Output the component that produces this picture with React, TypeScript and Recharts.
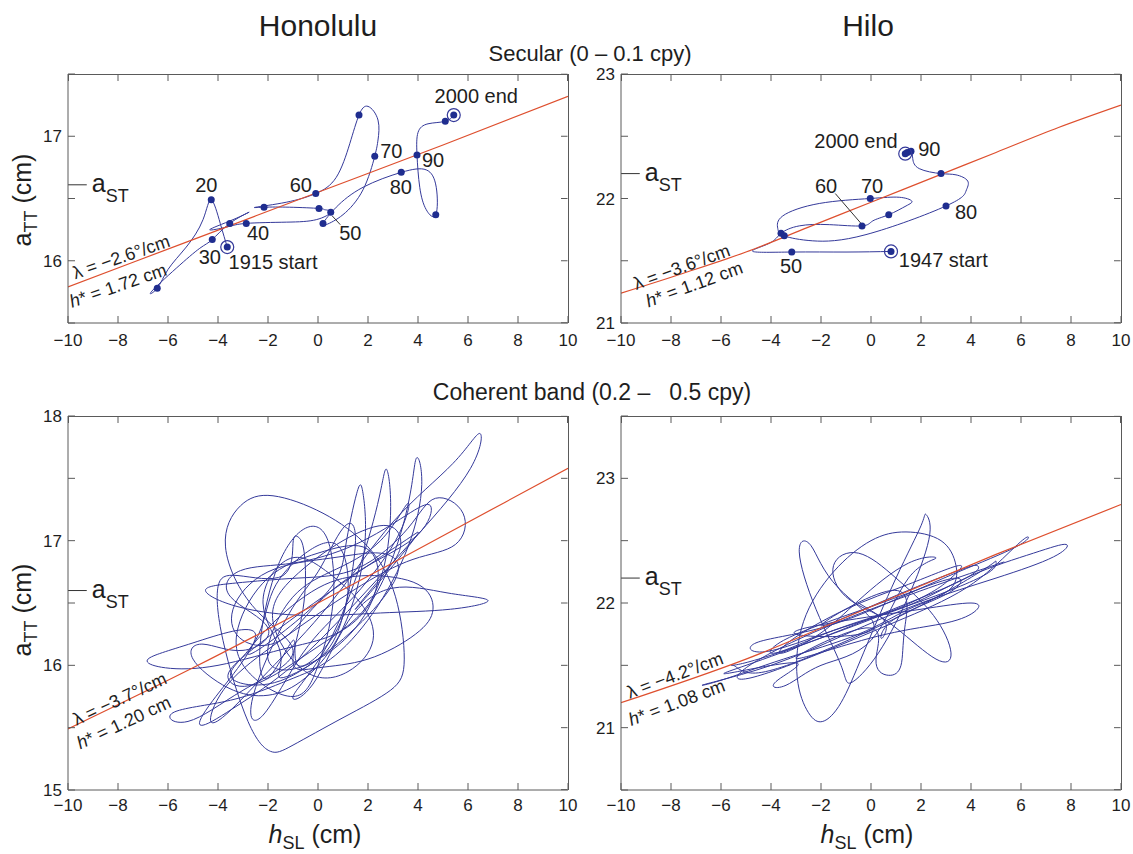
import React from "react";
import { ComposedChart, Line, Scatter, XAxis, YAxis, ReferenceLine } from "recharts";

const FONT = "'Liberation Sans', Arial, Helvetica, sans-serif";
const BLUE = "#34399a";
const DOT = "#1f2d8f";
const RED = "#de4f2e";
const AXIS = "#5a5a5a";
const INK = "#1e1e1e";

type Pt = { x: number; y: number };
type Lbl = Pt & { text: string };
type Note = Pt & { lead: string; rest: string; italic?: boolean };

const pts = (a: number[][]): Pt[] => a.map(([x, y]) => ({ x, y }));

const X_DOMAIN: [number, number] = [-10, 10];
const X_TICKS = [-10, -8, -6, -4, -2, 0, 2, 4, 6, 8, 10];
const HON_SEC_TICKS = [15.5, 16, 16.5, 17, 17.5];
const HILO_SEC_TICKS = [21, 21.5, 22, 22.5, 23];
const HON_COH_TICKS = [15, 15.5, 16, 16.5, 17, 17.5, 18];
const HILO_COH_TICKS = [20.5, 21, 21.5, 22, 22.5, 23, 23.5];

// ---- Honolulu, secular ----
const honSecFit = pts([[-10, 15.79], [-5, 16.17], [0, 16.55], [5, 16.93], [10, 17.32]]);
const honSecPath = pts([
  [-3.63, 16.11], [-3.91, 16.3], [-4.27, 16.49], [-4.6, 16.33], [-5.27, 16.11], [-6.0, 15.93],
  [-6.43, 15.78], [-6.67, 15.75], [-5.67, 15.94], [-4.73, 16.1], [-4.23, 16.17], [-3.53, 16.3],
  [-2.76, 16.39], [-3.4, 16.33], [-4.33, 16.25], [-3.67, 16.27], [-2.87, 16.3], [-1.27, 16.31],
  [-0.07, 16.33], [0.51, 16.39], [0.27, 16.41], [0.04, 16.42], [-1.13, 16.43], [-2.16, 16.43],
  [-2.49, 16.43], [-1.27, 16.47], [-0.09, 16.54], [0.73, 16.67], [1.27, 16.94], [1.64, 17.17],
  [2.0, 17.24], [2.4, 17.13], [2.4, 16.97], [2.27, 16.84], [1.8, 16.57], [1.0, 16.37],
  [0.33, 16.29], [0.2, 16.3], [0.73, 16.43], [1.8, 16.59], [3.33, 16.71], [4.33, 16.73],
  [4.73, 16.59], [4.71, 16.37], [4.33, 16.41], [4.07, 16.59], [3.96, 16.85], [4.0, 17.03],
  [4.4, 17.1], [5.09, 17.12], [5.43, 17.17],
]);
const honSecDots = pts([
  [-4.27, 16.49], [-6.43, 15.78], [-4.23, 16.17], [-3.53, 16.3], [-2.87, 16.3], [-2.16, 16.43],
  [-0.09, 16.54], [0.04, 16.42], [0.51, 16.39], [0.2, 16.3], [1.64, 17.17], [2.27, 16.84],
  [3.33, 16.71], [3.96, 16.85], [4.71, 16.37], [5.09, 17.12],
]);
const honSecRings = pts([[-3.63, 16.11], [5.43, 17.17]]);
const honSecLabels: Lbl[] = [
  { x: -4.47, y: 16.61, text: "20" },
  { x: -4.33, y: 16.03, text: "30" },
  { x: -2.4, y: 16.22, text: "40" },
  { x: 1.29, y: 16.22, text: "50" },
  { x: -0.69, y: 16.61, text: "60" },
  { x: 2.93, y: 16.88, text: "70" },
  { x: 3.31, y: 16.59, text: "80" },
  { x: 4.6, y: 16.81, text: "90" },
  { x: 6.33, y: 17.32, text: "2000 end" },
  { x: -1.8, y: 15.99, text: "1915 start" },
];
const honSecLeaders = [pts([[0.57, 16.36], [0.89, 16.29]])];
const honSecNotes: Note[] = [
  { x: -7.87, y: 16.03, lead: "λ", rest: " = −2.6°/cm" },
  { x: -8.0, y: 15.8, lead: "h", rest: "* = 1.72 cm", italic: true },
];

// ---- Hilo, secular ----
const hiloSecFit = pts([
  [-10, 21.24], [-7.5, 21.4], [-5, 21.57], [-2.5, 21.77], [0, 21.97], [2.5, 22.17],
  [5, 22.37], [7.5, 22.57], [10, 22.75],
]);
const hiloSecPath = pts([
  [0.8, 21.575], [-1.0, 21.57], [-3.17, 21.57], [-4.73, 21.575], [-4.07, 21.64], [-3.6, 21.72],
  [-2.87, 21.78], [-1.67, 21.79], [-0.36, 21.78], [0.07, 21.82], [0.71, 21.87], [1.4, 21.94],
  [1.63, 21.98], [1.13, 22.01], [-0.03, 22.0], [-2.07, 21.96], [-3.53, 21.86], [-3.73, 21.76],
  [-3.47, 21.7], [-2.33, 21.66], [-0.2, 21.71], [3.0, 21.94], [3.8, 22.06], [3.87, 22.14],
  [3.4, 22.19], [2.8, 22.2], [1.93, 22.24], [1.67, 22.32], [1.6, 22.38], [1.37, 22.36],
]);
const hiloSecDots = pts([
  [-3.17, 21.57], [-3.6, 21.72], [-3.47, 21.7], [-0.36, 21.78], [-0.03, 22.0], [0.71, 21.87],
  [3.0, 21.94], [2.8, 22.2], [1.6, 22.38], [1.45, 22.37],
]);
const hiloSecRings = pts([[0.8, 21.575], [1.37, 22.36]]);
const hiloSecLabels: Lbl[] = [
  { x: -0.6, y: 22.46, text: "2000 end" },
  { x: 2.33, y: 22.4, text: "90" },
  { x: -1.8, y: 22.1, text: "60" },
  { x: 0.04, y: 22.1, text: "70" },
  { x: 3.8, y: 21.89, text: "80" },
  { x: -3.2, y: 21.46, text: "50" },
  { x: 2.89, y: 21.51, text: "1947 start" },
];
const hiloSecLeaders = [pts([[-1.43, 22.04], [-0.4, 21.8]])];
const hiloSecNotes: Note[] = [
  { x: -7.57, y: 21.45, lead: "λ", rest: " = −3.6°/cm" },
  { x: -7.07, y: 21.31, lead: "h", rest: "* = 1.12 cm", italic: true },
];

// ---- Honolulu, coherent band ----
const honCohFit = pts([[-10, 15.49], [-5, 15.98], [0, 16.5], [5, 17.04], [10, 17.58]]);
const honCohPath = pts([
  [4.0, 17.07], [2.0, 16.8], [-0.5, 16.45], [-2.8, 16.1], [-3.6, 15.9], [-2.5, 15.85], [0, 16.15], [2.2, 16.55],
  [2.9, 17.2], [2.75, 17.57], [2.45, 17.35], [1.6, 16.75], [0.2, 16.1], [-1.0, 15.75], [-0.2, 15.85], [1.2, 16.35],
  [3.0, 16.62], [5.2, 16.58], [6.8, 16.52], [5.3, 16.45], [2.5, 16.42], [-0.5, 16.4], [-3.2, 16.47], [-4.5, 16.6],
  [-3.3, 16.66], [-0.8, 16.7], [1.6, 16.78],
  [3.6, 17.1], [4.7, 17.34], [5.8, 17.22], [5.5, 16.97], [3.8, 16.85], [1.4, 16.6], [-1.5, 16.2], [-3.6, 15.85],
  [-4.3, 15.56], [-3.6, 15.62], [-2.0, 15.95],
  [0.5, 16.5], [3.0, 17.15], [5.4, 17.62], [6.47, 17.86], [6.1, 17.58], [4.0, 17.05], [1.5, 16.5], [-1.0, 16.0],
  [-3.2, 15.68], [-4.6, 15.52], [-4.2, 15.72],
  [-2.5, 16.25], [-5.0, 16.18], [-6.8, 16.05], [-6.1, 15.98], [-4.0, 16.0], [-1.0, 16.15], [1.8, 16.42],
  [3.5, 17.2], [3.93, 17.66], [4.15, 17.45], [3.6, 16.95], [2.2, 16.42], [0.5, 16.05], [-1.2, 15.88], [-3.5, 15.72],
  [-5.8, 15.62], [-5.2, 15.55], [-3.0, 15.8], [-1.0, 16.1],
  [-2.5, 16.45], [-3.7, 16.95], [-3.1, 17.28], [-1.8, 17.36], [0.2, 17.22], [2.0, 16.95], [3.1, 16.55],
  [3.45, 16.05], [2.9, 15.8], [1.0, 15.58], [-1.0, 15.36], [-1.9, 15.31], [-2.8, 15.55], [-3.8, 16.2], [-4.0, 16.63],
  [-3.2, 16.72], [-1.4, 16.72], [-1.0, 16.98], [-0.8, 17.03], [-0.55, 16.9], [-0.6, 16.45], [-1.0, 16.02],
  [0.0, 15.98], [2.0, 16.05], [3.9, 16.25], [4.6, 16.45], [4.0, 16.65], [2.0, 16.72], [0.0, 16.62], [-2.0, 16.3],
  [-2.6, 16.1], [0.2, 16.55], [1.1, 16.95], [1.55, 17.38], [1.8, 17.38], [1.85, 16.92], [1.0, 16.3], [-0.5, 15.9],
  [-2.0, 15.76], [-3.6, 15.82], [-5.0, 16.05], [-4.6, 16.17], [-3.0, 16.12],
  [-2.0, 16.3], [-3.5, 16.55], [-3.1, 16.76], [-1.0, 16.82], [1.5, 16.97], [3.5, 17.2], [4.5, 17.28], [4.0, 17.05],
  [2.0, 16.8], [0.0, 16.5],
  [-1.5, 16.2], [-3.0, 16.2], [-3.4, 16.45], [-2.0, 16.75], [0.5, 16.86], [2.5, 16.9], [3.2, 16.75], [2.0, 16.4],
  [0.0, 16.05], [-2.0, 15.85], [-3.5, 15.92],
  [-2.5, 16.2], [-1.8, 16.6], [-0.5, 16.9], [0.8, 16.96], [1.2, 16.6], [0.5, 16.2], [-0.8, 16.0],
  [-1.0, 16.2], [-2.0, 15.9], [-2.3, 16.2], [-1.6, 16.8], [-0.5, 17.1], [0.4, 17.0], [0.6, 16.5], [0.0, 16.0],
  [-1.0, 15.75],
  [-2.8, 15.95], [-3.2, 16.3], [-2.0, 16.7], [0.0, 16.9], [1.8, 16.95], [2.4, 16.7], [1.5, 16.3], [-0.5, 16.0],
  [-2.0, 16.05], [-1.2, 16.5], [0.5, 16.75], [2.5, 17.0], [3.6, 17.3], [3.1, 17.0], [1.2, 16.5], [-0.6, 16.1],
  [-2.2, 15.6], [-2.6, 15.75],
  [-1.2, 16.4], [0.0, 16.75], [1.0, 17.1], [1.5, 17.0], [1.0, 16.4], [0.0, 16.05], [-1.5, 15.9],
  [-1.5, 16.1], [-2.2, 16.5], [-1.2, 16.85], [0.3, 16.76], [1.7, 16.5], [2.2, 16.2], [1.2, 15.95], [-0.5, 15.95],
  [-1.8, 16.35], [-1.0, 16.7], [1.0, 17.0], [2.8, 17.12], [3.3, 16.95], [2.5, 16.7], [1.5, 16.45], [3.0, 16.8],
  [4.05, 17.07],
]);
const honCohNotes: Note[] = [
  { x: -7.93, y: 15.73, lead: "λ", rest: " = −3.7°/cm" },
  { x: -7.77, y: 15.54, lead: "h", rest: "* = 1.20 cm", italic: true },
];

// ---- Hilo, coherent band ----
const hiloCohFit = pts([[-10, 21.2], [-5, 21.55], [0, 21.97], [5, 22.39], [10, 22.79]]);
const hiloCohPath = pts([
  [5.33, 22.33], [3.0, 22.17], [0.0, 21.95], [-3.0, 21.7], [-5.13, 21.46], [-4.8, 21.4], [-2.0, 21.6], [1.0, 21.85],
  [3.8, 22.12], [5.6, 22.42], [6.27, 22.53], [5.8, 22.45], [3.5, 22.25], [1.0, 22.03], [-2.0, 21.8], [-4.6, 21.68],
  [-4.2, 21.61], [-1.5, 21.78], [1.5, 21.98],
  [4.0, 22.22], [6.5, 22.4], [7.8, 22.47], [7.3, 22.37], [5.0, 22.2], [2.0, 22.0], [-1.0, 21.75], [-4.0, 21.5],
  [-6.6, 21.35], [-6.0, 21.38], [-3.5, 21.55], [-0.5, 21.75],
  [1.5, 21.95], [3.1, 22.1], [3.4, 22.3], [2.8, 22.5], [1.4, 22.57], [0.0, 22.5], [-1.5, 22.25], [-2.7, 21.85],
  [-2.95, 21.4], [-2.5, 21.12], [-1.93, 21.05], [-1.2, 21.2], [-0.3, 21.6],
  [1.0, 22.2], [2.0, 22.62], [2.2, 22.71], [2.35, 22.55], [1.6, 22.1], [0.3, 21.6], [-0.8, 21.36], [-1.2, 21.5],
  [-2.2, 21.95], [-2.87, 22.41], [-2.4, 22.46], [-1.3, 22.12], [0.0, 21.78],
  [-3.0, 21.75], [-1.0, 21.86], [2.0, 21.95], [4.0, 22.0], [4.2, 21.94], [3.0, 21.84], [0.0, 21.72], [-3.0, 21.56],
  [-0.2, 21.8], [0.2, 21.55], [0.7, 21.42], [1.2, 21.5], [1.35, 21.8], [0.8, 22.1],
  [-2.0, 21.82], [1.0, 22.06], [3.5, 22.26], [4.25, 22.3], [3.8, 22.2], [1.0, 21.96], [-2.0, 21.72], [-5.0, 21.5],
  [-5.6, 21.44],
  [-3.0, 21.52], [-3.8, 21.37], [-3.4, 21.34], [-2.0, 21.5], [0.0, 21.7],
  [1.5, 22.2], [2.6, 22.36], [1.5, 22.32], [-0.5, 22.02], [-2.0, 21.76], [-3.5, 21.6], [-3.2, 21.7], [-1.0, 21.95],
  [1.5, 22.15], [3.5, 22.3], [3.2, 22.2], [1.0, 21.95],
  [-4.5, 21.55], [-5.5, 21.5], [-4.5, 21.44], [-1.5, 21.65], [2.0, 21.98], [4.6, 22.28], [5.0, 22.33], [4.5, 22.22],
  [1.5, 21.98], [-1.5, 21.78],
  [-3.8, 21.6], [-3.5, 21.7], [-1.0, 21.9], [1.5, 22.08], [3.4, 22.2], [3.1, 22.08], [1.0, 21.88],
  [0.4, 21.72], [0.6, 21.78], [0.3, 21.9], [-1.0, 22.05], [-1.5, 22.3], [-0.5, 22.4], [1.0, 22.2], [2.5, 21.9],
  [3.2, 21.6], [2.6, 21.55], [1.0, 21.8], [-0.5, 22.0],
]);
const hiloCohNotes: Note[] = [
  { x: -7.84, y: 21.42, lead: "λ", rest: " = −4.2°/cm" },
  { x: -7.77, y: 21.2, lead: "h", rest: "* = 1.08 cm", italic: true },
];

const fmtX = (v: number) => (v < 0 ? `−${Math.abs(v)}` : `${v}`);
const fmtY = (v: number) => (Number.isInteger(v) ? `${v}` : "");

const tickStyle = { fontSize: 17, fill: INK, fontFamily: FONT };

const dotShape = (p: any) => <circle cx={p.cx} cy={p.cy} r={3.5} fill={DOT} />;
const ringShape = (p: any) => (
  <g>
    <circle cx={p.cx} cy={p.cy} r={6.5} fill="none" stroke={BLUE} strokeWidth={1.2} />
    <circle cx={p.cx} cy={p.cy} r={3.5} fill={DOT} />
  </g>
);
const labelShape = (p: any) => (
  <text x={p.cx} y={p.cy} textAnchor="middle" dominantBaseline="central" fontSize={20} fontFamily={FONT} fill={INK}>
    {p.payload.text}
  </text>
);
const noteShape = (angle: number) => (p: any) => (
  <text
    x={p.cx}
    y={p.cy}
    transform={`rotate(${angle} ${p.cx} ${p.cy})`}
    textAnchor="middle"
    dominantBaseline="central"
    fontSize={18}
    fontFamily={FONT}
    fill={INK}
  >
    <tspan fontStyle={p.payload.italic ? "italic" : "normal"}>{p.payload.lead}</tspan>
    {p.payload.rest}
  </text>
);
const astShape = (p: any) => (
  <text x={p.cx} y={p.cy + 7} fontSize={25} fontFamily={FONT} fill={INK}>
    a
    <tspan fontSize={18} dy={10}>
      ST
    </tspan>
  </text>
);

interface PanelProps {
  left: number;
  top: number;
  width: number;
  height: number;
  mt: number;
  mr: number;
  yw: number;
  xh: number;
  xtm: number;
  yDomain: [number, number];
  yTicks: number[];
  fit: Pt[];
  path: Pt[];
  dots?: Pt[];
  rings?: Pt[];
  labels?: Lbl[];
  leaders?: Pt[][];
  notes: Note[];
  noteAngle: number;
  aST: number;
}

function Panel(p: PanelProps) {
  const [y0, y1] = p.yDomain;
  const plotH = p.height - p.mt - p.xh;
  const plotW = p.width - p.yw - p.mr;
  // 7 px inward ticks on the top / right frame, in data units
  const dyTick = ((y1 - y0) * 7) / plotH;
  const dxTick = ((X_DOMAIN[1] - X_DOMAIN[0]) * 7) / plotW;
  const ey = (y1 - y0) * 0.001;
  const ex = (X_DOMAIN[1] - X_DOMAIN[0]) * 0.001;
  return (
    <div style={{ position: "absolute", left: p.left, top: p.top, width: p.width, height: p.height }}>
      <ComposedChart width={p.width} height={p.height} margin={{ top: p.mt, right: p.mr, bottom: 0, left: 0 }}>
        <XAxis
          dataKey="x"
          type="number"
          domain={X_DOMAIN}
          ticks={X_TICKS}
          interval={0}
          allowDataOverflow
          height={p.xh}
          tickSize={-7}
          tickMargin={p.xtm}
          tickFormatter={fmtX}
          tick={tickStyle}
          axisLine={{ stroke: AXIS }}
          tickLine={{ stroke: AXIS }}
        />
        <YAxis
          dataKey="y"
          type="number"
          domain={p.yDomain}
          ticks={p.yTicks}
          interval={0}
          allowDataOverflow
          width={p.yw}
          tickSize={-7}
          tickMargin={13}
          tickFormatter={fmtY}
          tick={tickStyle}
          axisLine={{ stroke: AXIS }}
          tickLine={{ stroke: AXIS }}
        />
        {X_TICKS.map((t) => (
          <ReferenceLine
            key={`tx${t}`}
            segment={[
              { x: Math.min(Math.max(t, -10 + ex), 10 - ex), y: y1 - ey },
              { x: Math.min(Math.max(t, -10 + ex), 10 - ex), y: y1 - dyTick },
            ]}
            stroke={AXIS}
          />
        ))}
        {p.yTicks.map((t) => (
          <ReferenceLine
            key={`ty${t}`}
            segment={[
              { x: 10 - ex, y: Math.min(Math.max(t, y0 + ey), y1 - ey) },
              { x: 10 - dxTick, y: Math.min(Math.max(t, y0 + ey), y1 - ey) },
            ]}
            stroke={AXIS}
          />
        ))}
        <Line
          data={p.path}
          dataKey="y"
          type="natural"
          stroke={BLUE}
          strokeWidth={1}
          dot={false}
          activeDot={false}
          isAnimationActive={false}
        />
        <Line
          data={p.fit}
          dataKey="y"
          type="monotone"
          stroke={RED}
          strokeWidth={1.2}
          dot={false}
          activeDot={false}
          isAnimationActive={false}
        />
        <ReferenceLine
          segment={[
            { x: -10, y: p.aST },
            { x: -9.25, y: p.aST },
          ]}
          stroke="#333"
        />
        {(p.leaders || []).map((seg, i) => (
          <ReferenceLine key={i} segment={seg} stroke="#333" />
        ))}
        <Scatter data={[{ x: -9.05, y: p.aST }]} shape={astShape} isAnimationActive={false} />
        {p.dots && <Scatter data={p.dots} shape={dotShape} isAnimationActive={false} />}
        {p.rings && <Scatter data={p.rings} shape={ringShape} isAnimationActive={false} />}
        {p.labels && <Scatter data={p.labels} shape={labelShape} isAnimationActive={false} />}
        <Scatter data={p.notes} shape={noteShape(p.noteAngle)} isAnimationActive={false} />
      </ComposedChart>
      {/* top and right edges of the frame */}
      <div
        style={{
          position: "absolute",
          left: p.yw,
          top: p.mt - 0.5,
          width: plotW + 0.5,
          height: plotH + 0.5,
          borderTop: `1px solid ${AXIS}`,
          borderRight: `1px solid ${AXIS}`,
          boxSizing: "border-box",
          pointerEvents: "none",
        }}
      />
    </div>
  );
}

function AxisTitleX({ x }: { x: number }) {
  return (
    <text x={x} y={843} textAnchor="middle" fontSize={25} fontFamily={FONT} fill={INK}>
      <tspan fontStyle="italic">h</tspan>
      <tspan fontSize={18} dy={6}>
        SL
      </tspan>
      <tspan dy={-6}> (cm)</tspan>
    </text>
  );
}

function AxisTitleY({ y }: { y: number }) {
  return (
    <text transform={`translate(31,${y}) rotate(-90)`} textAnchor="middle" fontSize={25} fontFamily={FONT} fill={INK}>
      a
      <tspan fontSize={18} dy={6}>
        TT
      </tspan>
      <tspan dy={-6}> (cm)</tspan>
    </text>
  );
}

export default function App() {
  return (
    <div style={{ position: "absolute", left: 0, top: 0, width: 1133, height: 854, background: "#fff", fontFamily: FONT }}>
      <svg width={1133} height={854} style={{ position: "absolute", left: 0, top: 0 }}>
        <text x={318} y={36} textAnchor="middle" fontSize={30} fontFamily={FONT} fill={INK}>
          Honolulu
        </text>
        <text x={868} y={36} textAnchor="middle" fontSize={30} fontFamily={FONT} fill={INK}>
          Hilo
        </text>
        <text x={590} y={61} textAnchor="middle" fontSize={22} fontFamily={FONT} fill={INK}>
          Secular (0 – 0.1 cpy)
        </text>
        <text x={592} y={400} textAnchor="middle" fontSize={23} fontFamily={FONT} fill={INK} style={{ whiteSpace: "pre" }}>
          {"Coherent band (0.2 –   0.5 cpy)"}
        </text>
        <AxisTitleX x={315} />
        <AxisTitleX x={867} />
        <AxisTitleY y={200} />
        <AxisTitleY y={610} />
      </svg>
      <Panel
        left={0} top={60} width={600} height={300} mt={14} mr={32} yw={68} xh={37} xtm={18}
        yDomain={[15.5, 17.5]} yTicks={HON_SEC_TICKS}
        fit={honSecFit} path={honSecPath} dots={honSecDots} rings={honSecRings}
        labels={honSecLabels} leaders={honSecLeaders} notes={honSecNotes} noteAngle={-19} aST={16.61}
      />
      <Panel
        left={560} top={60} width={573} height={300} mt={14} mr={12} yw={61} xh={37} xtm={18}
        yDomain={[21, 23]} yTicks={HILO_SEC_TICKS}
        fit={hiloSecFit} path={hiloSecPath} dots={hiloSecDots} rings={hiloSecRings}
        labels={hiloSecLabels} leaders={hiloSecLeaders} notes={hiloSecNotes} noteAngle={-20} aST={22.2}
      />
      <Panel
        left={0} top={380} width={600} height={474} mt={36} mr={32} yw={68} xh={64} xtm={16}
        yDomain={[15, 18]} yTicks={HON_COH_TICKS}
        fit={honCohFit} path={honCohPath} notes={honCohNotes} noteAngle={-25} aST={16.6}
      />
      <Panel
        left={560} top={380} width={573} height={474} mt={36} mr={12} yw={61} xh={64} xtm={16}
        yDomain={[20.5, 23.5]} yTicks={HILO_COH_TICKS}
        fit={hiloCohFit} path={hiloCohPath} notes={hiloCohNotes} noteAngle={-20.5} aST={22.2}
      />
    </div>
  );
}
